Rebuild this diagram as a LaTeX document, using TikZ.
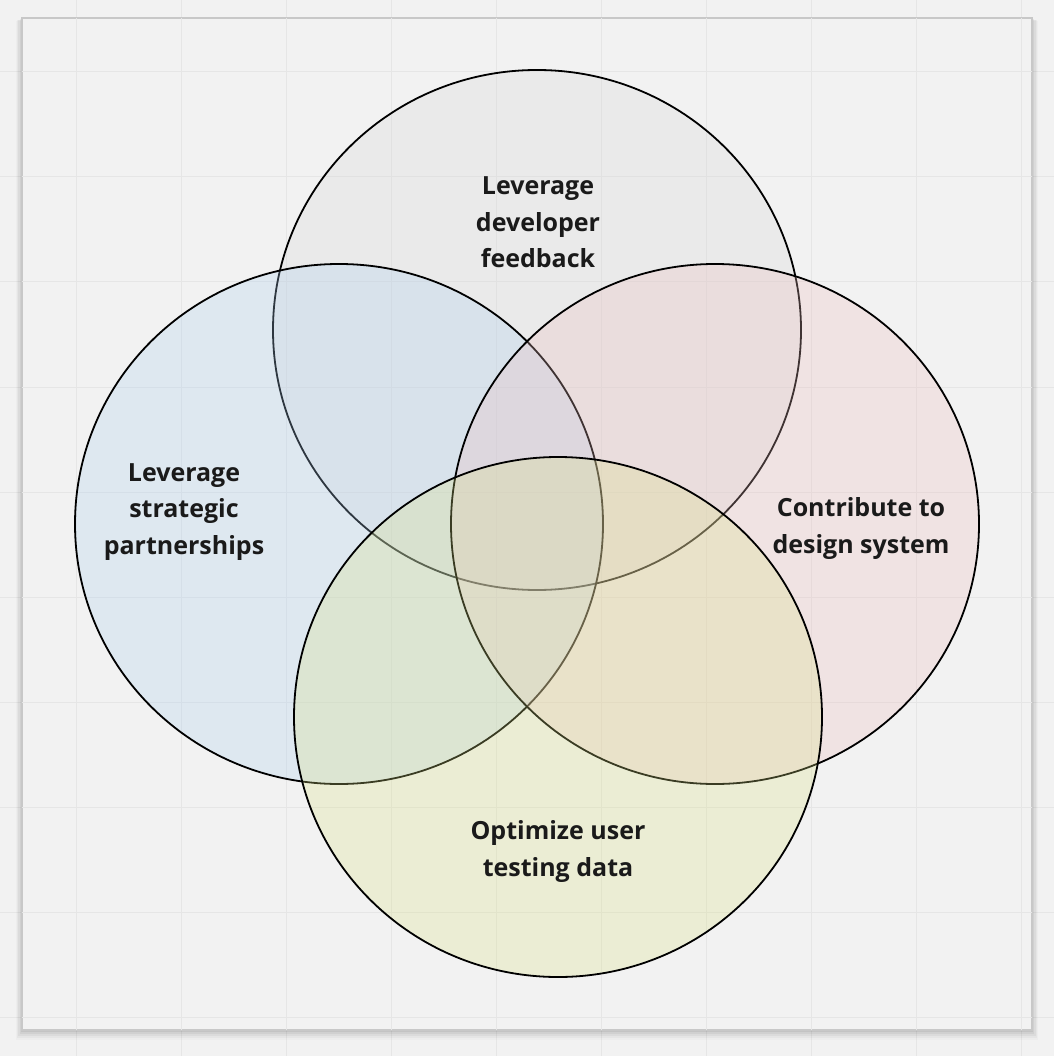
\documentclass[tikz,border=0pt]{standalone}
\usepackage{fontspec}
\setmainfont{Open Sans}
\definecolor{bgc}{HTML}{F2F2F2}
\definecolor{gridc}{HTML}{E6E6E6}
\definecolor{framec}{HTML}{C8C8C8}
\definecolor{topc}{HTML}{D6D6D6}
\definecolor{leftc}{HTML}{AACEEE}
\definecolor{rightc}{HTML}{EBBDBD}
\definecolor{botc}{HTML}{D9E084}
\definecolor{txtc}{HTML}{1A1A1A}
\begin{document}
\begin{tikzpicture}[x=1pt,y=-1pt,
  venn/.style={draw=black,line width=1.8pt,fill opacity=0.27},
  lbl/.style={align=center,font=\fontsize{25}{36.5}\selectfont\bfseries,text=txtc,inner sep=0pt}]
\useasboundingbox (0,0) rectangle (1054,1056);
\fill[bgc] (0,0) rectangle (1054,1056);
% grid
\foreach \g in {76,181,286,391,496,601,706,811,916,1021}{
  \draw[gridc,line width=1pt] (\g,0) -- (\g,1056);
  \draw[gridc,line width=1pt] (0,\g-4) -- (1054,\g-4);
}
% frame shadow
\foreach \d/\o in {2/0.06,4/0.05,6/0.04,8/0.03,10/0.02}{
  \fill[black,opacity=\o] (22-\d*0.6,18+\d*0.3) rectangle (1032+\d*0.6,1030+\d);
}
\node[draw=framec,line width=1.5pt,fill=bgc,minimum width=1010pt,minimum height=1012pt,inner sep=0pt] (frame) at (527,524) {};
\begin{scope}
\clip (22,18) rectangle (1032,1030);
\foreach \g in {76,181,286,391,496,601,706,811,916,1021}{
  \draw[gridc,line width=1pt] (\g,18) -- (\g,1030);
  \draw[gridc,line width=1pt] (22,\g-4) -- (1032,\g-4);
}
\end{scope}
% circles
\draw[venn,fill=topc] (537,330) ellipse [x radius=264pt,y radius=260pt];
\draw[venn,fill=leftc] (339,524) ellipse [x radius=264pt,y radius=260pt];
\draw[venn,fill=rightc] (715,524) ellipse [x radius=264pt,y radius=260pt];
\draw[venn,fill=botc] (558,717) ellipse [x radius=264pt,y radius=260pt];
% labels
\node[lbl] (ltop) at (538,222.5) {Leverage\\developer\\feedback};
\node[lbl] (lleft) at (184,512) {Leverage\\strategic\\partnerships};
\node[lbl] (lright) at (861,528.5) {Contribute to\\design system};
\node[lbl] (lbot) at (558,851.5) {Optimize user\\testing data};
\end{tikzpicture}
\end{document}
